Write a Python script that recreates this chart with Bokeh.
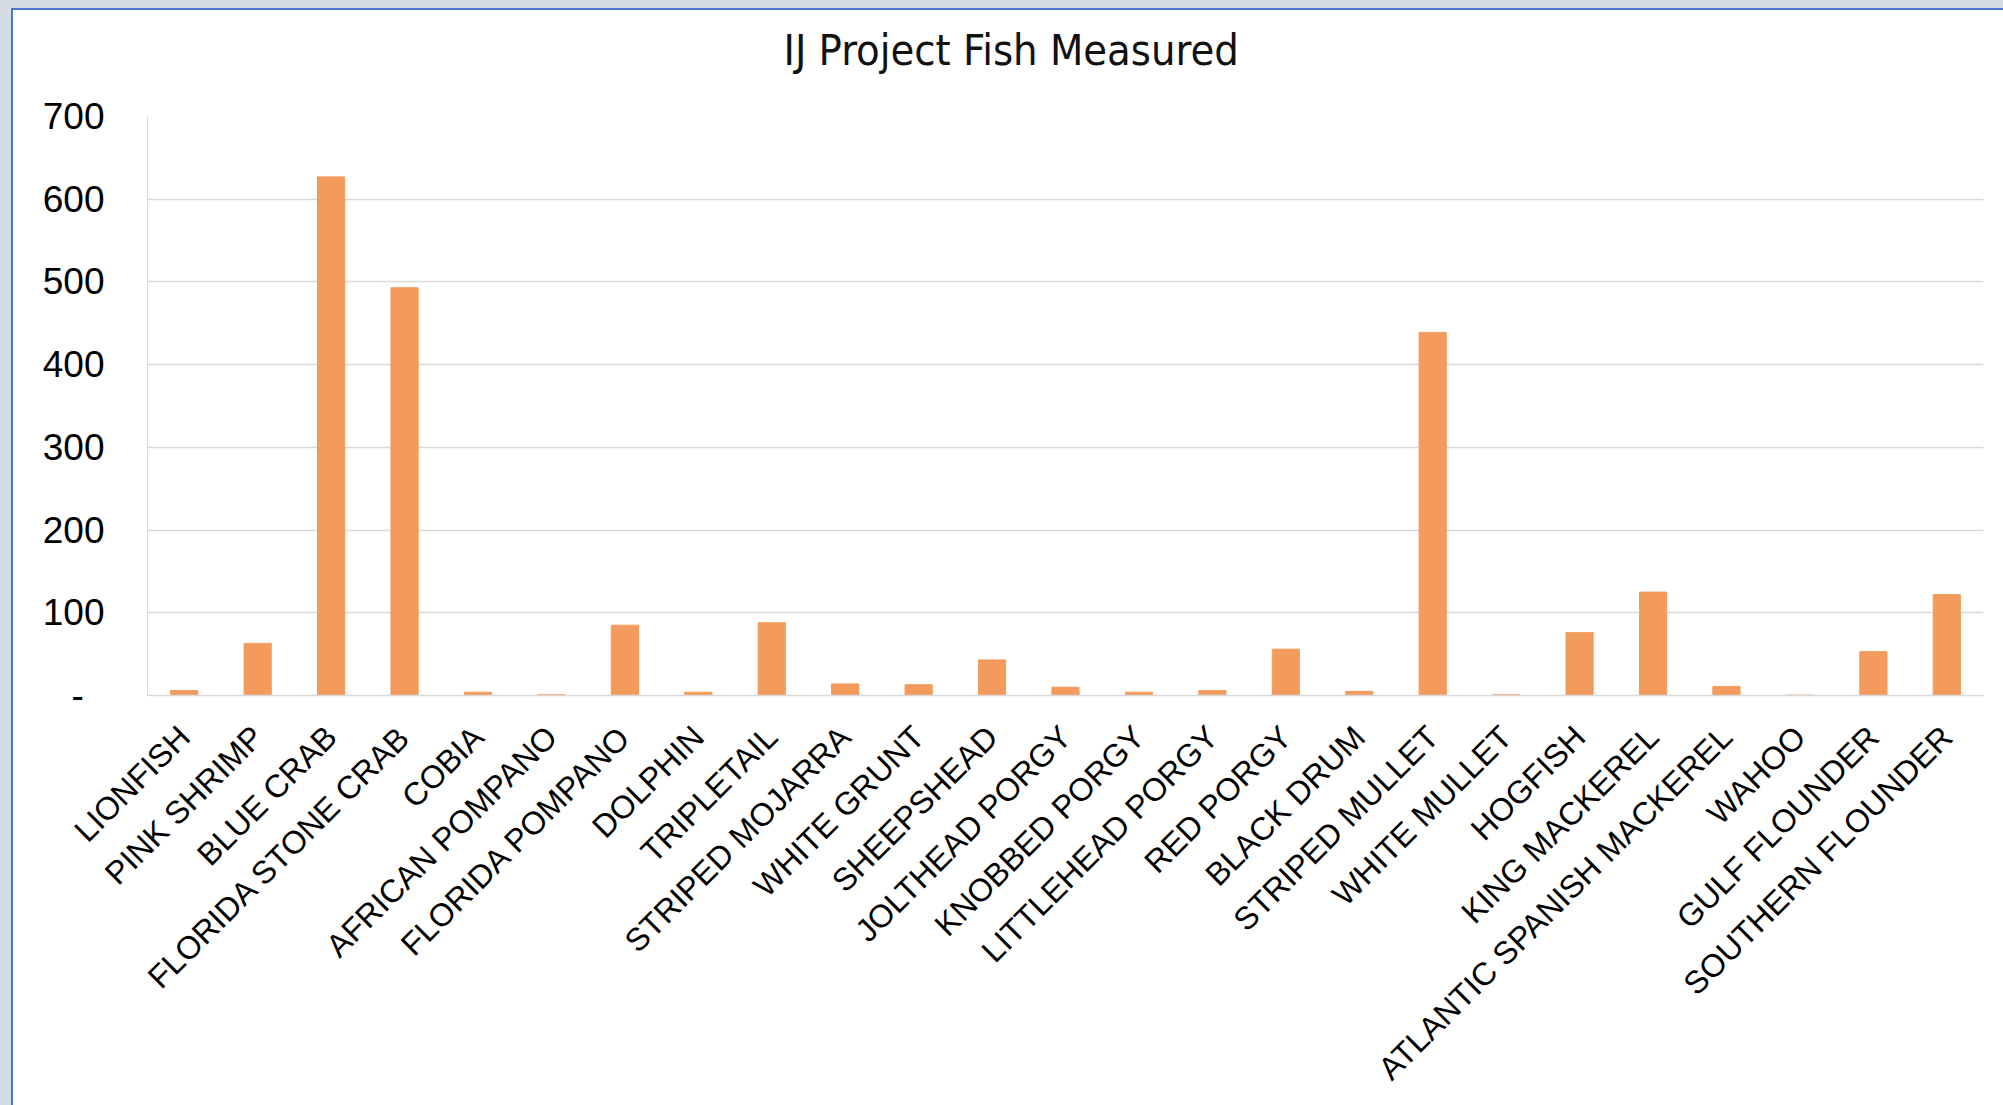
import math
from bokeh.plotting import figure
from bokeh.models import FixedTicker, ColumnDataSource, Spacer
from bokeh.layouts import column, row
from bokeh.embed import file_html
from bokeh.resources import INLINE

species = ["LIONFISH", "PINK SHRIMP", "BLUE CRAB", "FLORIDA STONE CRAB", "COBIA",
           "AFRICAN POMPANO", "FLORIDA POMPANO", "DOLPHIN", "TRIPLETAIL",
           "STRIPED MOJARRA", "WHITE GRUNT", "SHEEPSHEAD", "JOLTHEAD PORGY",
           "KNOBBED PORGY", "LITTLEHEAD PORGY", "RED PORGY", "BLACK DRUM",
           "STRIPED MULLET", "WHITE MULLET", "HOGFISH", "KING MACKEREL",
           "ATLANTIC SPANISH MACKEREL", "WAHOO", "GULF FLOUNDER", "SOUTHERN FLOUNDER"]
counts = [6, 63, 627, 493, 4, 1, 85, 4, 88, 14, 13, 43, 10, 4, 6, 56, 5, 439, 1, 76,
          125, 11, 0.5, 53, 122]
y_ticks = [0, 100, 200, 300, 400, 500, 600, 700]
y_tick_labels = {0: "-\u00a0\u00a0", 100: "100", 200: "200", 300: "300", 400: "400",
                 500: "500", 600: "600", 700: "700"}
chart_title = "IJ Project Fish Measured"

src = ColumnDataSource(dict(species=species, counts=counts))

p = figure(x_range=species, y_range=(0, 700), width=1990, height=1095,
           output_backend="svg", toolbar_location=None,
           title=chart_title + "\n\u00a0",
           min_border_left=134, min_border_right=20,
           min_border_top=106, min_border_bottom=410)

p.vbar(x="species", top="counts", width=0.37, color="#F29B5C", source=src)

p.title.align = "left"
p.title.offset = 636
p.title.text_font = "'DejaVu Sans Condensed', 'Liberation Sans Narrow', 'Liberation Sans'"
p.title.text_font_style = "normal"
p.title.text_font_size = "43px"
p.title.text_line_height = 0.6
p.title.text_color = "#111111"
p.title.standoff = 23

p.outline_line_color = None
p.background_fill_color = "white"
p.border_fill_color = "white"

p.xgrid.grid_line_color = None
p.ygrid.grid_line_color = "#d9d9d9"
p.ygrid.grid_line_width = 1.5

p.yaxis.ticker = FixedTicker(ticks=y_ticks)
p.yaxis.major_label_overrides = y_tick_labels
p.yaxis.axis_line_color = "#d9d9d9"
p.yaxis.major_tick_line_color = None
p.yaxis.minor_tick_line_color = None
p.yaxis.major_label_text_font = "Liberation Sans"
p.yaxis.major_label_text_font_size = "37px"
p.yaxis.major_label_text_color = "black"
p.yaxis.major_label_standoff = 37

p.xaxis.axis_line_color = "#d9d9d9"
p.xaxis.axis_line_width = 1.5
p.xaxis.major_tick_line_color = None
p.xaxis.minor_tick_line_color = None
p.xaxis.major_label_orientation = math.pi / 4
p.xaxis.major_label_text_font = "Liberation Sans"
p.xaxis.major_label_text_font_size = "32px"
p.xaxis.major_label_text_color = "black"
p.xaxis.major_label_standoff = 30

p.x_range.range_padding = 0.0

gray = "#d6dce4"
blue = "#4a78c8"
layout = column(
    Spacer(width=2003, height=8, styles={"background-color": gray}),
    row(
        Spacer(width=11, height=1097, styles={"background-color": gray}),
        Spacer(width=2, height=1097, styles={"background-color": blue}),
        column(Spacer(width=1990, height=2, styles={"background-color": blue}), p,
               spacing=0),
        spacing=0,
    ),
    spacing=0,
)

open("out.html", "w").write(file_html(layout, INLINE))
